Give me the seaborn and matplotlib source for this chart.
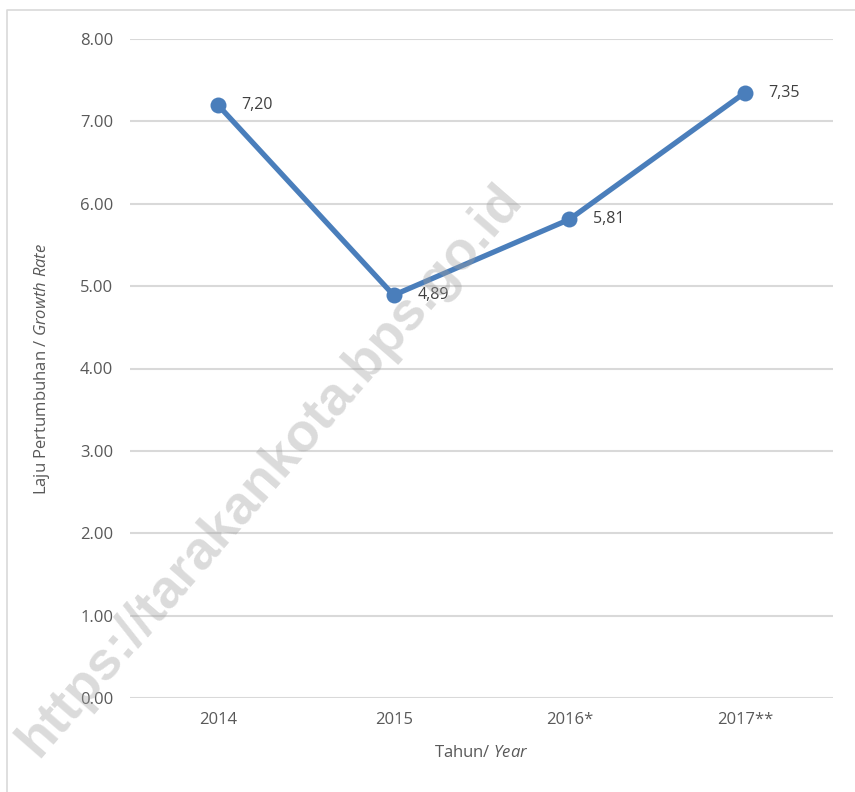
import matplotlib
matplotlib.use("Agg")
import matplotlib.pyplot as plt
import seaborn as sns
import pandas as pd
from matplotlib.lines import Line2D

years = ["2014", "2015", "2016*", "2017**"]
growth = [7.20, 4.89, 5.81, 7.35]
value_labels = ["7,20", "4,89", "5,81", "7,35"]
yticks = [0, 1, 2, 3, 4, 5, 6, 7, 8]

sns.set_theme(style="white")
plt.rcParams['font.family'] = ['Open Sans', 'DejaVu Sans']
plt.rcParams['mathtext.fontset'] = 'custom'
plt.rcParams['mathtext.rm'] = 'Open Sans'
plt.rcParams['mathtext.it'] = 'Open Sans:italic'

df = pd.DataFrame({"Tahun": years, "Laju": growth})

fig = plt.figure(figsize=(8.55, 7.92), dpi=100)
ax = fig.add_axes([130/855, 1-698/792, (833-130)/855, (698-39)/792])

line_color = "#4a7ebb"
sns.lineplot(data=df, x="Tahun", y="Laju", ax=ax, color=line_color, linewidth=3.8,
             marker="o", markersize=11.5, markeredgewidth=0, sort=False)

for i, (v, lab) in enumerate(zip(growth, value_labels)):
    ax.annotate(lab, xy=(i, v), xytext=(17, 0), textcoords="offset points",
                ha="left", va="center", fontsize=11.5, color="#404040")

ax.set_ylim(0, 8)
ax.set_xlim(-0.5, 3.5)
ax.set_yticks(yticks)
ax.set_yticklabels([f"{t:.2f}" for t in yticks])
ax.yaxis.grid(True, color="#d9d9d9", linewidth=1.5)
ax.xaxis.grid(False)
ax.set_axisbelow(True)
for s in ax.spines.values():
    s.set_visible(False)
ax.tick_params(axis="y", length=0, pad=12, labelsize=12, labelcolor="#595959")
ax.tick_params(axis="x", length=0, pad=10, labelsize=12, labelcolor="#595959")

ax.set_ylabel(r"Laju Pertumbuhan / $\mathit{Growth\ Rate}$", fontsize=12, color="#595959", labelpad=20)
ax.set_xlabel(r"Tahun/ $\mathit{Year}$", fontsize=12, color="#595959", labelpad=12)

# figure frame (left and top edges)
fig.add_artist(Line2D([7/855, 7/855, 1.0], [0.0, 1-10/792, 1-10/792],
                      transform=fig.transFigure, color="#d9d9d9", linewidth=1.2))

# watermark
fig.text(270/855, 1-470/792, "https://tarakankota.bps.go.id", rotation=49,
         rotation_mode="anchor", ha="center", va="center", fontsize=39,
         fontweight="bold", family=["Liberation Sans", "DejaVu Sans"],
         color="#a0a0a0", alpha=0.38, zorder=10)

fig.savefig("out.png", dpi=100)
